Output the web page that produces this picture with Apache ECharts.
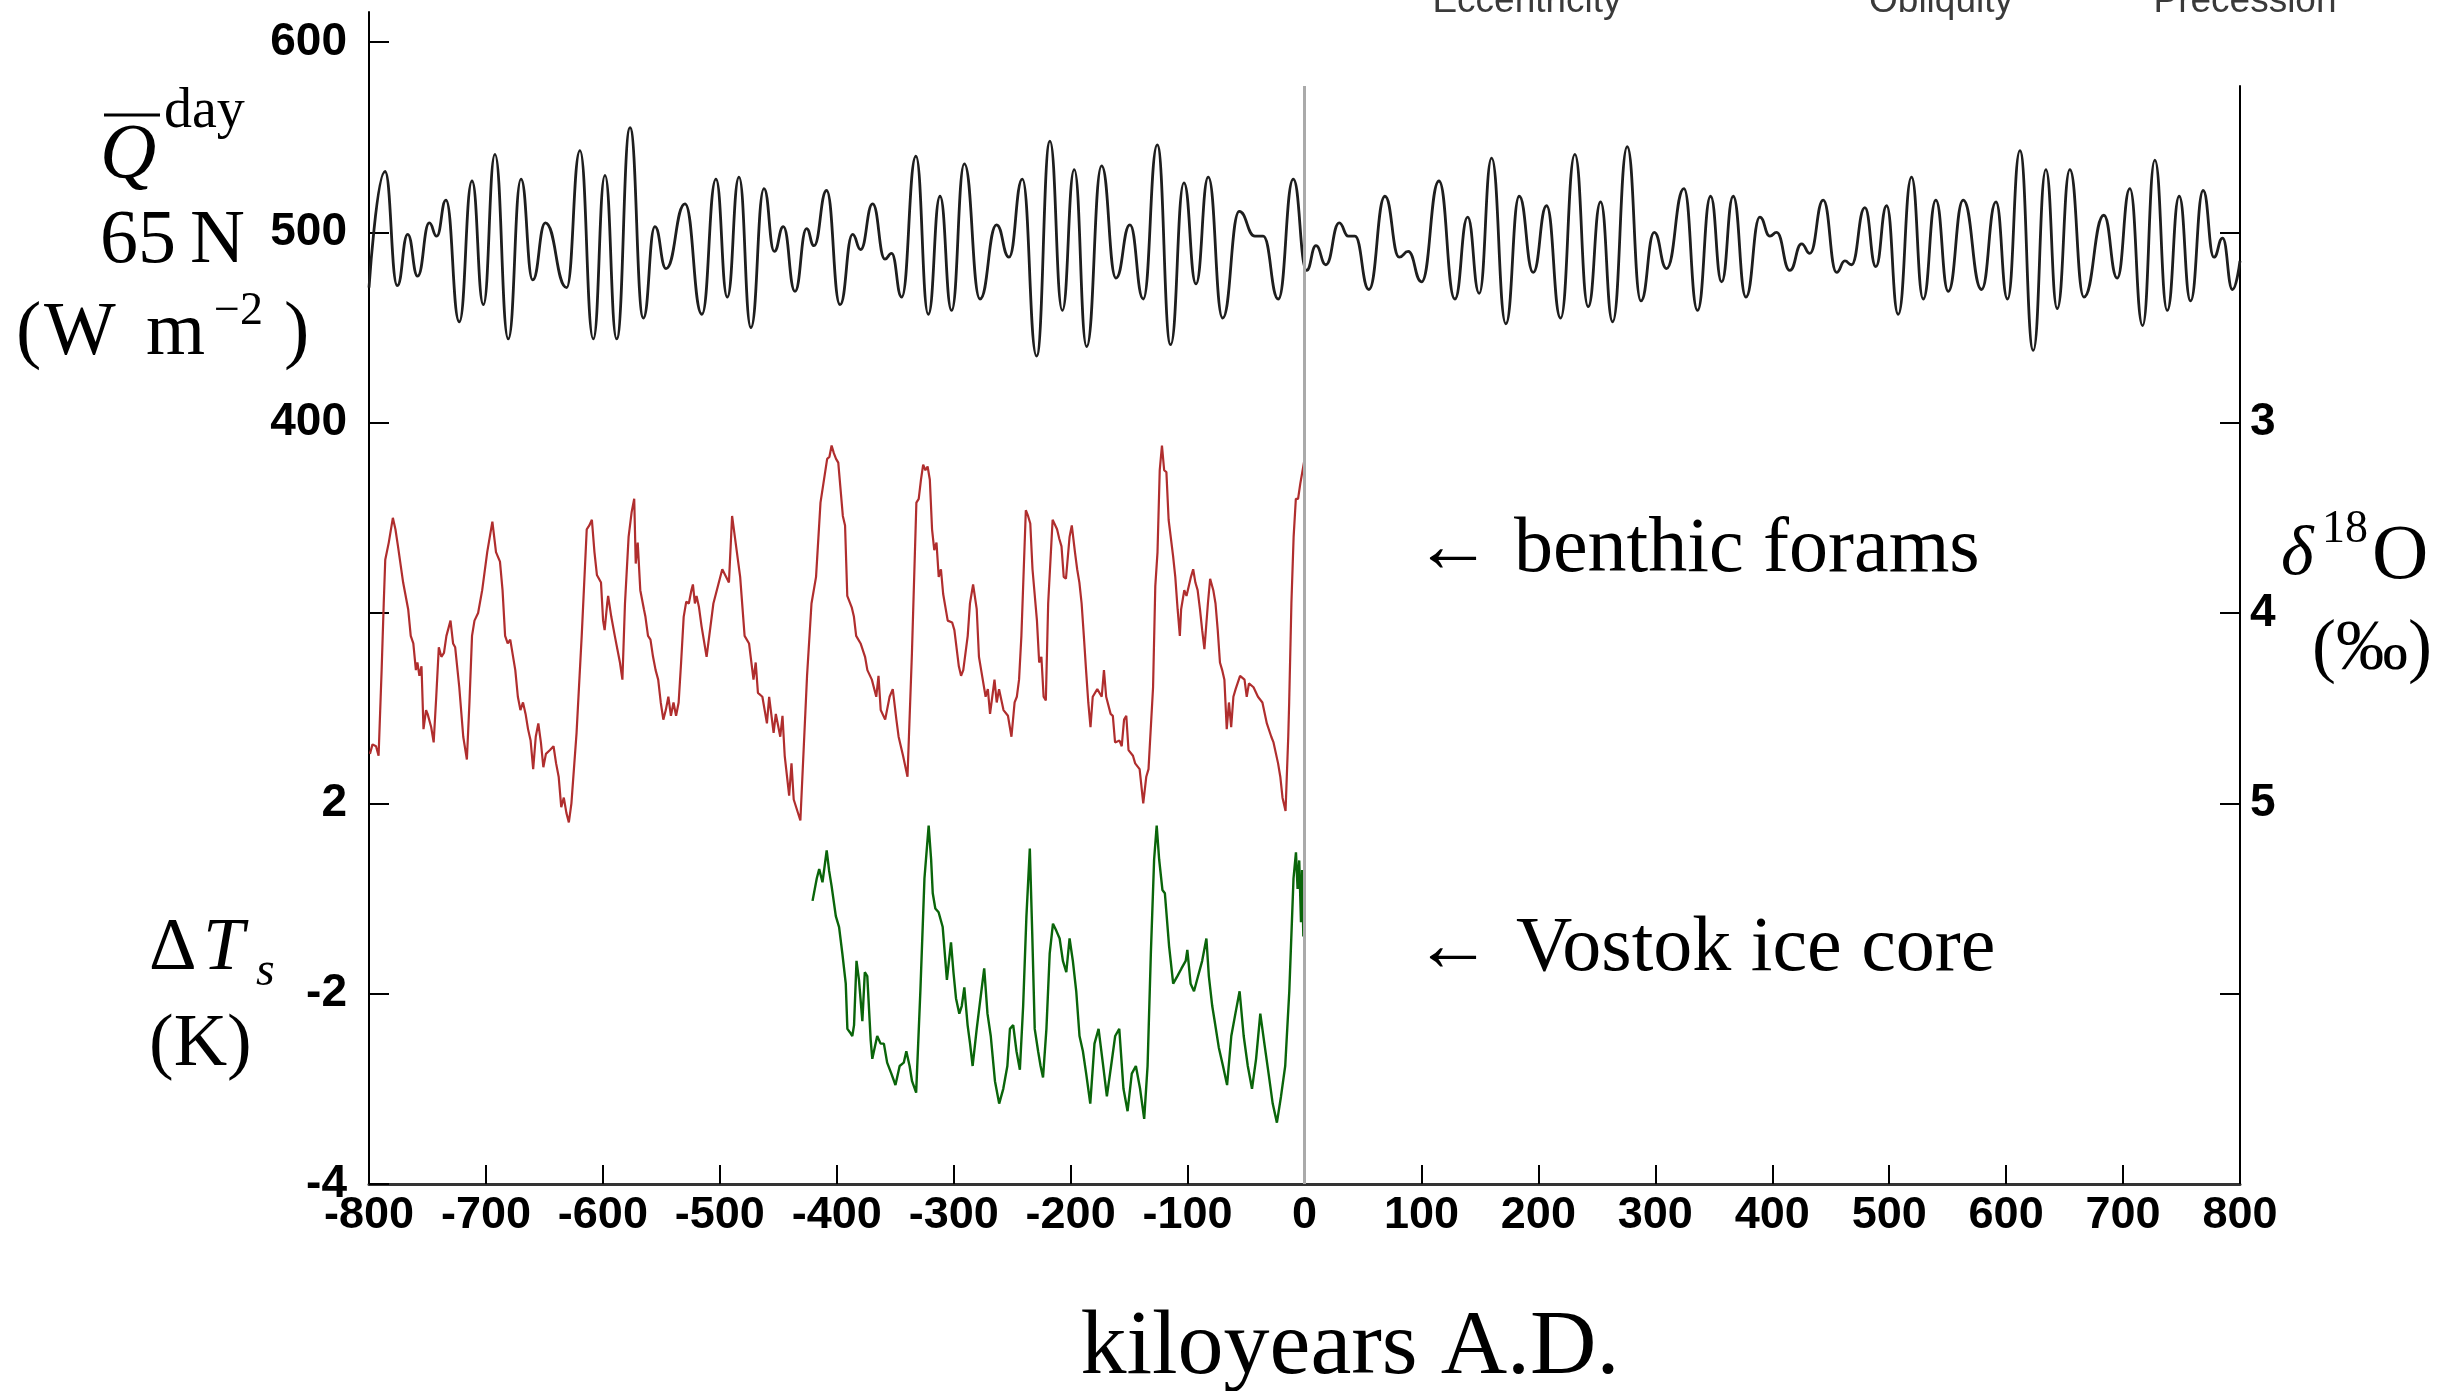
<!DOCTYPE html>
<html>
<head>
<meta charset="utf-8">
<script src="https://cdn.jsdelivr.net/npm/echarts@6/dist/echarts.min.js"></script>
<style>
  html, body { margin: 0; padding: 0; background: #fff; }
  #chart { width: 2459px; height: 1391px; }
</style>
</head>
<body>
<div id="chart"></div>
<script>
// x axis, kiloyears
const xTicks = [-800, 800, 100];

// left axis: tick slots 0..6 and their labels (mixed Q and ΔT scales)
const leftTickValues = [0, 100, 200, 300, 400, 500, 600];
const leftTickLabels = ['-4', '-2', '2', '', '400', '500', '600'];

// right axis: δ18O (‰), drawn inverted
const rightTickValues = [2, 3, 4, 5, 6];
const rightLabelValues = [3, 4, 5];

// mean daily insolation at 65 N, [kyr, W m-2] (peaks and troughs)
const insolation = [
  [-800,471],[-786.3,532],[-775.8,472],[-766.9,499],[-758.4,477],[-748.4,505],[-742.1,498],[-734.2,517],
  [-722.8,453],[-711.9,527],[-702.2,462],[-692.3,541],[-680.9,444],[-670.0,528],[-660.0,475],[-649.2,505],
  [-631.0,471],[-619.6,543],[-608.2,444],[-598.2,530],[-588.2,444],[-576.8,555],[-565.4,455],[-555.5,503],
  [-546.0,481],[-529.8,515],[-515.3,457],[-503.3,528],[-493.6,466],[-483.6,529],[-473.4,450],[-462.2,523],
  [-453.4,490],[-445.7,503],[-435.7,469],[-425.8,502],[-419.5,493],[-408.7,522],[-397.2,462],[-386.4,499],
  [-379.6,491],[-369.3,515],[-358.8,486],[-353.1,489],[-344.5,466],[-332.3,540],[-321.7,457],[-311.7,519],
  [-301.8,459],[-290.9,536],[-277.5,465],[-263.3,504],[-252.7,487],[-241.3,528],[-229.1,435],[-217.7,548],
  [-207.1,459],[-196.9,533],[-186.3,440],[-173.5,535],[-161.2,476],[-149.3,504],[-137.9,465],[-125.9,546],
  [-114.5,441],[-103.1,526],[-92.8,473],[-82.3,529],[-70.0,455],[-55.8,511],[-42.4,498],[-35.3,498],
  [-22.4,465],[-9.6,528],[1.8,480],[9.8,493],[18.3,483],[29.7,505],[37.4,498],[43.1,498],
  [55.1,470],[68.8,519],[81.0,487],[88.7,490],[100.1,474],[115.0,527],[128.6,465],[139.5,508],
  [149.4,468],[160.0,539],[172.2,452],[183.6,519],[195.6,479],[207.0,514],[219.0,455],[231.2,541],
  [242.6,461],[253.2,516],[263.5,453],[276.0,545],[287.7,464],[299.1,500],[309.6,481],[324.5,523],
  [336.1,459],[347.3,519],[356.7,474],[366.6,519],[377.5,466],[389.4,508],[398.0,498],[403.7,500],
  [415.1,480],[425.1,494],[432.2,489],[443.6,517],[455.0,479],[462.1,485],[467.8,483],[479.2,513],
  [488.6,482],[497.8,514],[507.7,457],[519.1,529],[529.1,465],[539.9,517],[550.5,469],[563.3,517],
  [579.0,470],[591.3,516],[601.2,465],[611.8,543],[623.2,438],[634.0,533],[643.7,460],[654.5,533],
  [666.5,466],[683.6,509],[695.0,476],[705.8,523],[716.7,451],[727.2,538],[737.8,459],[748.0,519],
  [757.7,464],[768.5,522],[777.7,487],[785.1,497],[793.6,470],[800,485]
];

// benthic foram δ18O, [kyr, ‰]
const benthic = [
  [-799.2,4.74],[-797.0,4.69],[-794.0,4.70],[-791.8,4.75],[-789.2,4.30],[-787.4,3.95],[-786.1,3.72],[-783.1,3.63],
  [-779.6,3.50],[-777.4,3.56],[-775.2,3.65],[-770.8,3.84],[-766.5,3.98],[-764.3,4.12],[-762.1,4.16],[-759.9,4.30],
  [-758.6,4.26],[-756.9,4.33],[-755.1,4.28],[-753.4,4.61],[-751.2,4.51],[-749.9,4.53],[-746.8,4.60],[-744.7,4.68],
  [-742.5,4.44],[-740.3,4.18],[-738.1,4.23],[-735.9,4.21],[-733.8,4.12],[-730.3,4.04],[-728.1,4.16],[-726.3,4.18],
  [-722.8,4.39],[-719.4,4.65],[-716.3,4.77],[-714.1,4.47],[-711.9,4.12],[-709.8,4.04],[-706.7,4.00],[-703.2,3.88],
  [-698.9,3.68],[-694.5,3.52],[-691.4,3.68],[-688.0,3.73],[-685.8,3.88],[-683.6,4.12],[-681.4,4.16],[-679.2,4.14],
  [-674.9,4.30],[-672.7,4.44],[-670.5,4.51],[-668.3,4.47],[-666.1,4.53],[-664.0,4.61],[-661.8,4.67],[-659.6,4.82],
  [-657.4,4.65],[-655.2,4.58],[-653.0,4.68],[-650.9,4.81],[-648.7,4.74],[-645.2,4.72],[-642.2,4.70],[-640.0,4.79],
  [-637.8,4.86],[-635.6,5.02],[-633.4,4.97],[-631.2,5.05],[-629.1,5.10],[-626.9,5.00],[-622.5,4.63],[-618.1,4.12],
  [-613.8,3.56],[-611.6,3.54],[-609.4,3.51],[-607.2,3.68],[-605.1,3.80],[-603.7,3.81],[-601.6,3.84],[-599.8,4.04],
  [-598.5,4.09],[-596.3,3.95],[-595.5,3.91],[-592.8,4.02],[-589.8,4.12],[-587.6,4.19],[-585.4,4.26],[-583.3,4.35],
  [-581.1,3.95],[-578.0,3.60],[-575.4,3.47],[-573.2,3.40],[-571.9,3.74],[-570.2,3.63],[-568.0,3.88],[-566.7,3.89],
  [-564.9,3.98],[-563.6,4.02],[-561.4,4.12],[-559.3,4.14],[-557.1,4.23],[-554.9,4.30],[-552.7,4.35],[-550.5,4.47],
  [-548.3,4.56],[-546.2,4.51],[-544.0,4.44],[-541.8,4.54],[-539.6,4.47],[-537.4,4.54],[-535.2,4.47],[-533.1,4.26],
  [-530.9,4.02],[-528.7,3.94],[-526.5,3.95],[-524.3,3.88],[-523.0,3.85],[-521.3,3.95],[-519.9,3.91],[-517.8,3.97],
  [-515.6,4.07],[-511.3,4.23],[-505.5,3.95],[-497.9,3.77],[-492.2,3.84],[-489.5,3.49],[-482.6,3.81],[-478.8,4.12],
  [-475.0,4.16],[-471.2,4.35],[-469.3,4.26],[-467.4,4.42],[-463.6,4.44],[-459.7,4.58],[-457.8,4.44],[-454.0,4.63],
  [-452.1,4.53],[-448.3,4.65],[-446.4,4.54],[-444.5,4.75],[-440.7,4.96],[-438.7,4.79],[-436.8,4.98],[-431.1,5.09],
  [-425.4,4.33],[-421.6,3.95],[-417.7,3.81],[-413.9,3.42],[-408.2,3.19],[-406.3,3.18],[-404.4,3.12],[-402.5,3.16],
  [-400.6,3.19],[-398.7,3.21],[-394.8,3.49],[-392.9,3.54],[-391.0,3.91],[-387.2,3.97],[-385.3,4.02],[-383.4,4.12],
  [-379.6,4.16],[-375.8,4.23],[-373.8,4.30],[-370.0,4.35],[-366.2,4.44],[-364.3,4.33],[-362.4,4.51],[-358.6,4.56],
  [-354.8,4.44],[-352.1,4.40],[-349.0,4.56],[-347.1,4.65],[-343.3,4.75],[-339.5,4.86],[-335.7,4.21],[-331.9,3.42],
  [-329.9,3.40],[-328.0,3.30],[-326.1,3.22],[-324.2,3.25],[-322.3,3.23],[-320.4,3.30],[-318.5,3.56],[-316.6,3.67],
  [-314.7,3.63],[-312.8,3.81],[-310.9,3.77],[-309.0,3.90],[-305.1,4.04],[-301.3,4.05],[-299.4,4.09],[-295.6,4.28],
  [-293.7,4.33],[-291.8,4.30],[-288.0,4.12],[-286.1,3.95],[-283.4,3.85],[-280.3,3.98],[-278.4,4.23],[-276.5,4.30],
  [-272.7,4.44],[-270.8,4.40],[-268.9,4.53],[-265.1,4.35],[-263.2,4.47],[-261.2,4.40],[-257.4,4.51],[-253.6,4.54],
  [-250.6,4.65],[-247.9,4.47],[-246.0,4.44],[-244.1,4.35],[-242.1,4.12],[-238.3,3.46],[-236.4,3.49],[-234.5,3.53],
  [-232.6,3.77],[-228.8,4.04],[-226.9,4.26],[-225.0,4.23],[-223.1,4.44],[-221.2,4.46],[-219.2,3.95],[-215.4,3.51],
  [-211.6,3.56],[-209.7,3.61],[-207.8,3.65],[-205.9,3.81],[-204.0,3.82],[-200.9,3.60],[-199.0,3.54],[-196.3,3.68],
  [-194.4,3.77],[-192.5,3.84],[-190.6,3.95],[-188.7,4.12],[-186.8,4.30],[-184.9,4.47],[-183.0,4.60],[-181.1,4.44],
  [-177.2,4.40],[-173.4,4.44],[-171.5,4.30],[-169.6,4.44],[-165.8,4.53],[-163.9,4.54],[-162.0,4.68],[-158.2,4.67],
  [-156.3,4.70],[-154.3,4.56],[-152.4,4.54],[-150.5,4.72],[-146.7,4.75],[-144.8,4.79],[-141.0,4.82],[-139.1,4.93],
  [-137.9,5.00],[-135.3,4.86],[-133.4,4.82],[-129.5,4.39],[-127.6,3.86],[-125.7,3.68],[-123.8,3.25],[-121.9,3.12],
  [-120.0,3.25],[-118.1,3.26],[-116.2,3.51],[-112.4,3.70],[-110.5,3.81],[-108.5,3.98],[-106.6,4.12],[-105.5,3.98],
  [-102.8,3.88],[-100.9,3.91],[-97.1,3.81],[-95.2,3.77],[-93.3,3.84],[-91.4,3.88],[-89.4,3.98],[-87.5,4.09],
  [-85.6,4.19],[-82.6,3.95],[-80.7,3.82],[-78.0,3.88],[-76.1,3.95],[-74.2,4.09],[-72.3,4.26],[-70.4,4.30],
  [-68.5,4.35],[-66.5,4.61],[-64.6,4.47],[-62.7,4.60],[-60.8,4.44],[-58.9,4.40],[-55.1,4.33],[-51.3,4.35],
  [-49.4,4.44],[-47.5,4.37],[-43.6,4.39],[-39.8,4.44],[-36.0,4.47],[-32.2,4.58],[-28.4,4.65],[-26.5,4.68],
  [-22.6,4.79],[-20.7,4.86],[-18.8,4.97],[-16.2,5.04],[-13.9,4.65],[-13.1,4.47],[-11.2,3.95],[-9.3,3.60],
  [-7.4,3.40],[-5.5,3.40],[-3.6,3.32],[-1.6,3.25],[-0.2,3.20]
];

// Vostok ice core temperature anomaly, [kyr, K]
const vostok = [
  [-420.7,-0.05],[-417.1,0.42],[-415.0,0.62],[-412.2,0.34],[-408.6,1.01],[-406.5,0.58],[-404.4,0.26],[-400.8,-0.37],
  [-398.0,-0.60],[-395.2,-1.16],[-392.3,-1.79],[-390.9,-2.74],[-388.8,-2.81],[-386.7,-2.89],[-385.2,-2.66],[-383.1,-1.31],
  [-381.0,-1.71],[-378.1,-2.58],[-376.0,-1.55],[-373.9,-1.63],[-371.0,-2.97],[-369.6,-3.37],[-365.4,-2.89],[-362.5,-3.05],
  [-359.7,-3.05],[-356.9,-3.45],[-353.3,-3.68],[-349.8,-3.92],[-346.2,-3.52],[-342.7,-3.45],[-340.5,-3.21],[-337.7,-3.52],
  [-335.6,-3.84],[-332.1,-4.08],[-328.5,-1.95],[-325.0,0.42],[-321.4,1.53],[-319.3,0.82],[-317.9,0.11],[-315.7,-0.21],
  [-312.9,-0.29],[-309.4,-0.60],[-305.8,-1.71],[-302.3,-0.92],[-300.2,-1.55],[-298.0,-2.10],[-295.2,-2.42],[-293.1,-2.26],
  [-290.9,-1.87],[-288.1,-2.66],[-286.0,-3.05],[-283.8,-3.52],[-280.3,-2.74],[-277.5,-2.18],[-273.9,-1.47],[-271.1,-2.42],
  [-268.3,-2.89],[-264.7,-3.84],[-261.1,-4.31],[-257.6,-4.00],[-254.1,-3.52],[-251.9,-2.74],[-249.1,-2.66],[-246.3,-3.21],
  [-243.4,-3.60],[-240.6,-2.26],[-237.8,-0.37],[-234.9,1.05],[-232.8,-0.76],[-230.7,-2.74],[-227.8,-3.21],[-225.7,-3.52],
  [-223.6,-3.76],[-220.7,-2.74],[-217.9,-1.16],[-215.1,-0.53],[-212.2,-0.68],[-209.4,-0.84],[-206.6,-1.31],[-203.7,-1.55],
  [-200.9,-0.84],[-198.1,-1.31],[-195.2,-1.95],[-192.4,-2.89],[-189.5,-3.21],[-186.7,-3.68],[-183.2,-4.31],[-179.6,-3.05],
  [-176.1,-2.74],[-172.5,-3.45],[-169.0,-4.16],[-165.4,-3.52],[-161.9,-2.89],[-158.4,-2.74],[-154.8,-4.00],[-151.3,-4.47],
  [-147.7,-3.68],[-144.2,-3.52],[-140.6,-4.00],[-137.1,-4.63],[-134.2,-3.52],[-131.4,-1.16],[-128.6,0.82],[-126.4,1.53],
  [-124.3,0.82],[-121.5,0.18],[-119.4,0.11],[-115.8,-1.00],[-112.3,-1.79],[-108.7,-1.63],[-105.2,-1.47],[-101.6,-1.31],
  [-100.2,-1.08],[-97.4,-1.79],[-94.5,-1.95],[-91.0,-1.63],[-87.5,-1.31],[-83.9,-0.84],[-81.8,-1.63],[-78.9,-2.26],
  [-76.8,-2.58],[-73.3,-3.13],[-69.7,-3.52],[-66.2,-3.92],[-62.6,-2.89],[-59.1,-2.42],[-55.5,-1.95],[-52.0,-2.89],
  [-48.5,-3.52],[-44.9,-4.00],[-41.4,-3.37],[-37.8,-2.42],[-34.3,-3.05],[-30.7,-3.68],[-27.2,-4.31],[-23.6,-4.71],
  [-20.1,-4.16],[-16.5,-3.52],[-13.0,-1.95],[-9.4,0.42],[-7.3,0.97],[-5.9,0.2],[-4.5,0.8],[-3.0,-0.5],
  [-2.0,0.6],[-1.0,-0.8],[0,0.3]
];

const serif = '"Liberation Serif", "DejaVu Serif", serif';
const sans = '"Liberation Sans", Arial, sans-serif';

const chart = echarts.init(document.getElementById('chart'), null, { renderer: 'canvas' });

const tickLabel = { fontFamily: sans, fontWeight: 'bold', fontSize: 46, color: '#000' };

function txt(text, x, y, size, opts) {
  return {
    type: 'text', x: x, y: y, silent: true,
    style: Object.assign({
      text: text, font: size + 'px ' + serif, fill: '#000',
      align: 'left', verticalAlign: 'middle'
    }, opts || {})
  };
}

chart.setOption({
  animation: false,
  backgroundColor: '#fff',
  grid: [
    { left: 369, right: 219, top: 12, bottom: 207 },
    { left: 369, right: 219, top: 86, bottom: 207 }
  ],
  xAxis: [
    {
      gridIndex: 0, type: 'value', min: xTicks[0], max: xTicks[1], interval: xTicks[2],
      axisLine: { onZero: false, lineStyle: { color: '#333', width: 3 } },
      axisTick: { inside: true, length: 19, lineStyle: { color: '#000', width: 2 } },
      axisLabel: Object.assign({}, tickLabel, { fontSize: 45, margin: 9 }),
      splitLine: { show: false }
    },
    { gridIndex: 1, type: 'value', min: xTicks[0], max: xTicks[1], show: false }
  ],
  yAxis: [
    {
      gridIndex: 0, type: 'value', position: 'left', min: 0, max: 615.8,
      axisLine: { show: true, onZero: false, lineStyle: { color: '#000', width: 2 } },
      axisTick: { show: true, inside: true, length: 20, customValues: leftTickValues,
        lineStyle: { color: '#000', width: 2 } },
      axisLabel: Object.assign({}, tickLabel, {
        margin: 22,
        customValues: leftTickValues.filter((v, i) => leftTickLabels[i] !== ''),
        formatter: v => leftTickLabels[Math.round(v / 100)]
      }),
      splitLine: { show: false }
    },
    { gridIndex: 0, type: 'value', min: -6, max: 18.63, show: false },
    {
      gridIndex: 1, type: 'value', position: 'right', inverse: true, min: 1.231, max: 7,
      axisLine: { show: true, onZero: false, lineStyle: { color: '#000', width: 2 } },
      axisTick: { show: true, inside: true, length: 20, customValues: rightTickValues,
        lineStyle: { color: '#000', width: 2 } },
      axisLabel: Object.assign({}, tickLabel, {
        margin: 10, customValues: rightLabelValues, formatter: v => String(Math.round(v))
      }),
      splitLine: { show: false }
    }
  ],
  series: [
    {
      type: 'line', xAxisIndex: 1, yAxisIndex: 2, data: benthic,
      showSymbol: false, lineStyle: { color: '#b02e2e', width: 2.2 },
      markLine: {
        silent: true, symbol: 'none', label: { show: false },
        lineStyle: { color: '#aaaaaa', width: 3, type: 'solid' },
        data: [{ xAxis: 0 }]
      }
    },
    {
      type: 'line', xAxisIndex: 0, yAxisIndex: 0, data: insolation,
      showSymbol: false, smooth: 0.5, smoothMonotone: 'x',
      lineStyle: { color: '#1e1e1e', width: 2.8 }
    },
    {
      type: 'line', xAxisIndex: 0, yAxisIndex: 1, data: vostok,
      showSymbol: false, lineStyle: { color: '#0a650a', width: 2.4 }
    }
  ],
  graphic: [
    // top labels, clipped at the page edge
    txt('Eccentricity', 1527, 2, 37, { font: '37px ' + sans, fill: '#3a3a3a', align: 'center' }),
    txt('Obliquity', 1941, 2, 37, { font: '37px ' + sans, fill: '#3a3a3a', align: 'center' }),
    txt('Precession', 2245, 2, 37, { font: '37px ' + sans, fill: '#3a3a3a', align: 'center' }),
    // left label, insolation
    { type: 'line', silent: true, shape: { x1: 104, y1: 115, x2: 160, y2: 115 },
      style: { stroke: '#000', lineWidth: 3 } },
    txt('Q', 100, 156, 78, { font: 'italic 78px ' + serif }),
    txt('day', 164, 112, 56),
    txt('65', 100, 242, 76),
    txt('N', 190, 242, 76),
    txt('(', 16, 334, 76),
    txt('W', 44, 334, 76),
    txt('m', 146, 334, 76),
    txt('\u22122', 214, 312, 46),
    txt(')', 284, 334, 76),
    // left label, temperature
    txt('\u0394', 149, 950, 74),
    txt('T', 203, 950, 74, { font: 'italic 74px ' + serif }),
    txt('s', 256, 972, 48, { font: 'italic 48px ' + serif }),
    txt('(K)', 149, 1046, 74),
    // right label, δ18O
    txt('\u03b4', 2281, 556, 70, { font: 'italic 70px ' + serif }),
    txt('18', 2322, 530, 46),
    txt('O', 2372, 558, 78),
    txt('(\u2030)', 2372, 650, 72, { align: 'center' }),
    // annotations
    txt('\u2190', 1414, 551, 78),
    txt('benthic forams', 1514, 551, 78),
    txt('\u2190', 1414, 950, 78),
    txt('Vostok ice core', 1516, 950, 78),
    txt('kiloyears A.D.', 1350, 1349, 92, { align: 'center' })
  ]
});
</script>
</body>
</html>
